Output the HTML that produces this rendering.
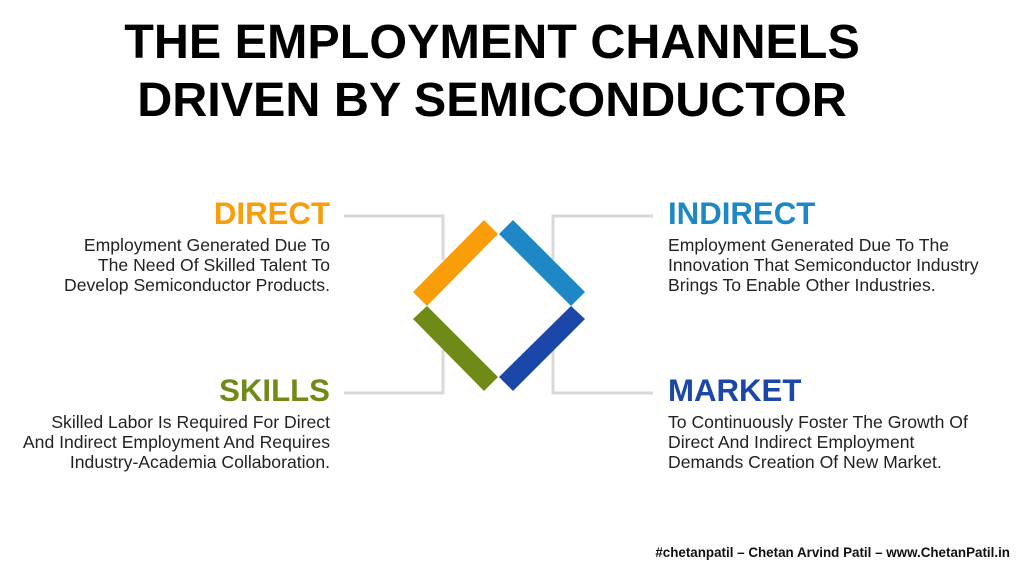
<!DOCTYPE html>
<html><head><style>
body{margin:0;width:1024px;height:577px;background:#fff;position:relative;overflow:hidden;font-family:"Liberation Sans",Arial,sans-serif;}
.t{position:absolute;left:0;width:984px;text-align:center;font-weight:bold;font-size:48.5px;color:#000;line-height:58px;}
.h{position:absolute;font-weight:bold;font-size:31.2px;line-height:34px;}
.b{position:absolute;font-size:17.6px;line-height:20px;color:#222;}
.r{text-align:right;}
</style></head><body>
<div class="t" style="top:13px">THE EMPLOYMENT CHANNELS<br>DRIVEN BY SEMICONDUCTOR</div>
<svg style="position:absolute;left:0;top:0" width="1024" height="577">
<g stroke="#d9d9d9" stroke-width="3" fill="none">
<polyline points="344,216 443,216 443,260"/>
<polyline points="344,393 443,393 443,350"/>
<polyline points="653,216 553,216 553,260"/>
<polyline points="653,393 553,393 553,350"/>
</g>
<polygon points="484,220 498,234 427,306 413,292" fill="#f99d0a"/>
<polygon points="513,220 499,234 571,306 585,292" fill="#1e88c6"/>
<polygon points="427,306 413,319 484,391 498,377" fill="#6f8a17"/>
<polygon points="571,306 585,319 513,391 499,377" fill="#1b47a8"/>
</svg>
<div class="h r" style="right:694px;top:197px;color:#f99d0a">DIRECT</div>
<div class="b r" style="right:694px;top:235px">Employment Generated Due To<br>The Need Of Skilled Talent To<br>Develop Semiconductor Products.</div>
<div class="h" style="left:668px;top:197px;color:#1e88c6">INDIRECT</div>
<div class="b" style="left:668px;top:235px">Employment Generated Due To The<br>Innovation That Semiconductor Industry<br>Brings To Enable Other Industries.</div>
<div class="h r" style="right:694px;top:374px;color:#6f8a17">SKILLS</div>
<div class="b r" style="right:694px;top:412px">Skilled Labor Is Required For Direct<br>And Indirect Employment And Requires<br>Industry-Academia Collaboration.</div>
<div class="h" style="left:668px;top:374px;color:#1b47a8">MARKET</div>
<div class="b" style="left:668px;top:412px">To Continuously Foster The Growth Of<br>Direct And Indirect Employment<br>Demands Creation Of New Market.</div>
<div style="position:absolute;right:14px;top:545px;font-size:13.4px;font-weight:bold;color:#111">#chetanpatil – Chetan Arvind Patil – www.ChetanPatil.in</div>
</body></html>
